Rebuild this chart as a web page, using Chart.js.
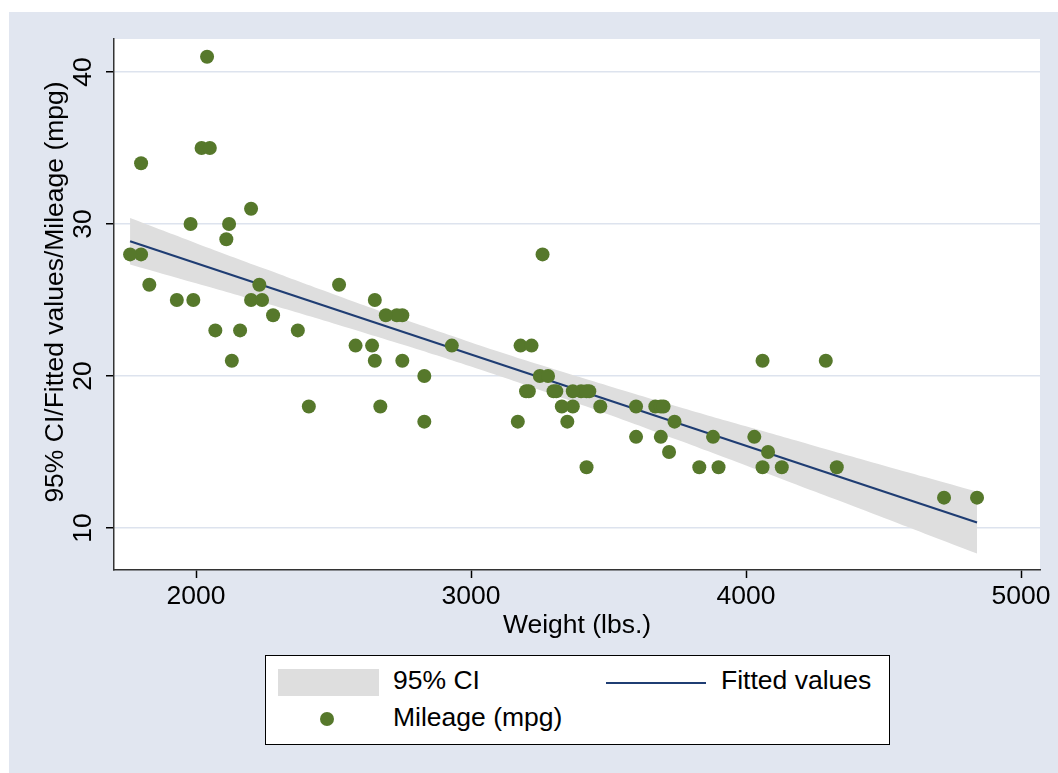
<!DOCTYPE html>
<html>
<head>
<meta charset="utf-8">
<script src="https://cdn.jsdelivr.net/npm/chart.js@4/dist/chart.umd.min.js"></script>
<style>
  body { margin: 0; background: #fff; font-family: "Liberation Sans", Arial, sans-serif; }
  #wrap { position: relative; width: 1058px; height: 773px; }
  #legend { position: absolute; left: 265px; top: 655px; width: 623px; height: 88px;
            background: #fff; border: 1px solid #000; }
  .lg { position: absolute; }
  .lbl { position: absolute; font-size: 26.5px; line-height: 30px; color: #000; white-space: nowrap; }
</style>
</head>
<body>
<div id="wrap">
  <canvas id="chart" width="1058" height="773"></canvas>
  <div id="legend">
    <div class="lg" style="left:12px;top:13px;width:101px;height:27px;background:#dedede;"></div>
    <div class="lbl" style="left:127px;top:9px;">95% CI</div>
    <div class="lg" style="left:340px;top:26px;width:100px;height:2px;background:#1f3d73;"></div>
    <div class="lbl" style="left:455px;top:9px;">Fitted values</div>
    <div class="lg" style="left:54px;top:56px;width:14px;height:14px;border-radius:50%;background:#56782b;"></div>
    <div class="lbl" style="left:127px;top:46px;">Mileage (mpg)</div>
  </div>
</div>
<script>
// Weight (lbs.) and mileage (mpg) of each car
const weight = [2930,3350,2640,3250,4080,3670,2230,3280,3880,3400,
                4330,3900,4290,2110,3690,3180,3220,2750,3430,2120,
                3600,3600,3740,1800,2650,4840,4720,3830,2580,4060,
                3720,3370,4130,2830,4060,3310,3300,3690,3370,2730,
                4030,3260,1800,2200,2520,3330,3700,3470,3210,3200,
                3420,2690,2830,2070,2650,2370,2020,2280,2750,2130,
                2240,1760,1980,3420,1830,2050,2410,2200,2670,2160,
                2040,1930,1990,3170];
const mpg = [22,17,22,20,15,18,26,20,16,19,
             14,14,21,29,16,22,22,24,19,30,
             18,16,17,28,21,12,12,14,22,14,
             15,18,14,20,21,19,19,18,19,24,
             16,28,34,25,26,18,18,18,19,19,
             19,24,17,23,25,23,35,24,21,21,
             25,28,30,14,26,35,18,31,18,23,
             41,25,25,17];

// Fitted line end points
const fitX = [1760, 4840];
const fitY = [28.87, 10.36];

// 95% CI band
const ciX    = [1760, 2000, 2250, 2500, 2750, 3000, 3250, 3500, 3750, 4000, 4250, 4500, 4840];
const ciLow  = [27.34, 26.10, 24.80, 23.46, 22.07, 20.62, 19.08, 17.47, 15.81, 14.12, 12.40, 10.68, 8.32];
const ciHigh = [30.39, 28.74, 27.05, 25.38, 23.76, 22.21, 20.74, 19.35, 18.00, 16.69, 15.40, 14.12, 12.40];

// Axis ticks
const xTicks = [2000, 3000, 4000, 5000];
const yTicks = [10, 20, 30, 40];

const FONT = "Liberation Sans";
const FSIZE = 26.5;

// grey page, white plot region
const backgroundPlugin = {
  id: "bg",
  beforeDraw(chart) {
    const { ctx, chartArea: a } = chart;
    ctx.save();
    ctx.fillStyle = "#fff";
    ctx.fillRect(0, 0, chart.width, chart.height);
    ctx.fillStyle = "#e1e6f0";
    ctx.fillRect(9, 12, chart.width - 9, chart.height - 12);
    ctx.fillStyle = "#fff";
    ctx.fillRect(a.left, a.top, a.right - a.left, a.bottom - a.top);
    ctx.restore();
  }
};

// vertical y tick labels and y title
const yLabelPlugin = {
  id: "ylabels",
  afterDraw(chart) {
    const { ctx, scales: { y } } = chart;
    ctx.save();
    ctx.fillStyle = "#000";
    ctx.font = FSIZE + "px " + FONT;
    ctx.textAlign = "center";
    ctx.textBaseline = "alphabetic";
    yTicks.forEach(v => {
      ctx.save();
      ctx.translate(91, y.getPixelForValue(v));
      ctx.rotate(-Math.PI / 2);
      ctx.fillText(String(v), 0, 0);
      ctx.restore();
    });
    ctx.translate(63, 292);
    ctx.rotate(-Math.PI / 2);
    ctx.fillText("95% CI/Fitted values/Mileage (mpg)", 0, 0);
    ctx.restore();
  }
};

const ctx = document.getElementById("chart").getContext("2d");
new Chart(ctx, {
  type: "scatter",
  data: {
    datasets: [
      {
        label: "Mileage (mpg)",
        data: weight.map((w, i) => ({ x: w, y: mpg[i] })),
        backgroundColor: "#56782b",
        borderWidth: 0,
        pointRadius: 7,
        order: 0
      },
      {
        label: "Fitted values",
        data: fitX.map((x, i) => ({ x: x, y: fitY[i] })),
        showLine: true,
        borderColor: "#1f3d73",
        borderWidth: 2.2,
        pointRadius: 0,
        order: 1
      },
      {
        label: "ci low",
        data: ciX.map((x, i) => ({ x: x, y: ciLow[i] })),
        showLine: true,
        borderWidth: 0,
        borderColor: "rgba(0,0,0,0)",
        pointRadius: 0,
        tension: 0.4,
        order: 3
      },
      {
        label: "95% CI",
        data: ciX.map((x, i) => ({ x: x, y: ciHigh[i] })),
        showLine: true,
        borderWidth: 0,
        borderColor: "rgba(0,0,0,0)",
        backgroundColor: "#dedede",
        fill: "-1",
        pointRadius: 0,
        tension: 0.4,
        order: 2
      }
    ]
  },
  options: {
    responsive: false,
    animation: false,
    layout: { padding: { top: 39, right: 18, bottom: 128, left: 0 } },
    plugins: { legend: { display: false }, tooltip: { enabled: false } },
    scales: {
      x: {
        type: "linear",
        min: 1701.5,
        max: 5069,
        afterBuildTicks: s => { s.ticks = xTicks.map(v => ({ value: v })); },
        afterFit: s => { s.height = 75; },
        ticks: { color: "#000", font: { family: FONT, size: FSIZE }, padding: 3,
                 callback: v => String(v) },
        grid: { drawOnChartArea: false, tickLength: 8, tickColor: "#000", tickWidth: 1.5 },
        border: { color: "#333", width: 1.5 },
        title: { display: true, text: "Weight (lbs.)", color: "#000",
                 font: { family: FONT, size: FSIZE }, padding: { top: 0, bottom: 3 } }
      },
      y: {
        type: "linear",
        min: 7.24,
        max: 42.17,
        afterBuildTicks: s => { s.ticks = yTicks.map(v => ({ value: v })); },
        afterFit: s => { s.width = 114; },
        ticks: { display: false },
        grid: { color: "#dde3ee", lineWidth: 1.5, tickLength: 8, tickColor: "#000", tickWidth: 1.5 },
        border: { color: "#333", width: 1.5 }
      }
    }
  },
  plugins: [backgroundPlugin, yLabelPlugin]
});
</script>
</body>
</html>
